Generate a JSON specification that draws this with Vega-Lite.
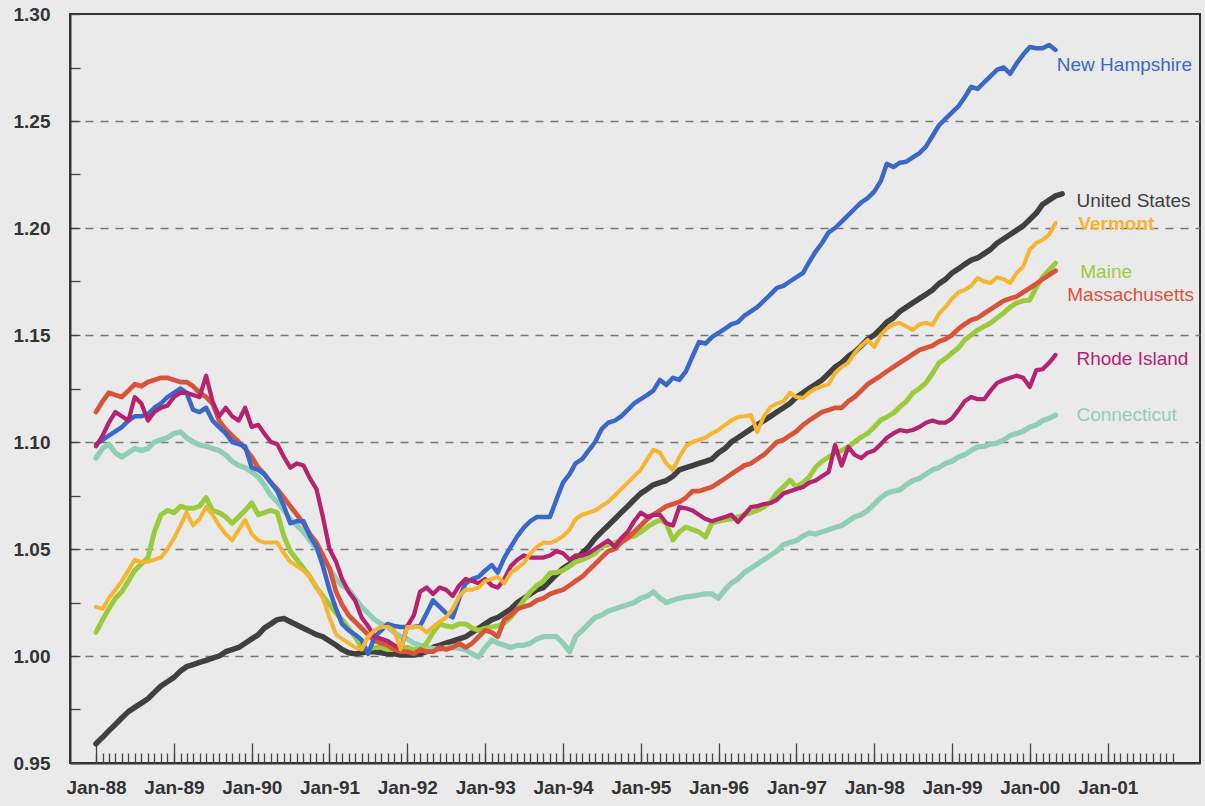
{
"$schema": "https://vega.github.io/schema/vega-lite/v6.json",
"width": 1130, "height": 749,
"autosize": {"type": "none"},
"padding": {"left": 70, "top": 14, "right": 5, "bottom": 43},
"background": "#eaeaea",
"config": {
  "view": {"stroke": "#333333", "strokeWidth": 2, "fill": "#eaeaea"},
  "axis": {"labelFont": "Liberation Sans", "labelFontWeight": "bold", "labelFontSize": 19, "labelColor": "#333333", "tickColor": "#444444", "tickWidth": 1.3, "domainColor": "#333333", "domainWidth": 2, "title": null, "labelFlush": false, "labelOverlap": false, "grid": false}
},
"resolve": {"axis": {"x": "independent", "y": "independent"}},
"layer": [
{
  "data": {"values": [
{"d":"1988-01-01","US":0.959,"NH":1.099,"VT":1.023,"ME":1.011,"MA":1.114,"RI":1.098,"CT":1.0925},
{"d":"1988-02-01","US":0.962,"NH":1.101,"VT":1.022,"ME":1.017,"MA":1.119,"RI":1.103,"CT":1.097},
{"d":"1988-03-01","US":0.965,"NH":1.103,"VT":1.027,"ME":1.022,"MA":1.123,"RI":1.109,"CT":1.099},
{"d":"1988-04-01","US":0.968,"NH":1.105,"VT":1.031,"ME":1.027,"MA":1.122,"RI":1.114,"CT":1.095},
{"d":"1988-05-01","US":0.971,"NH":1.107,"VT":1.035,"ME":1.030,"MA":1.121,"RI":1.112,"CT":1.093},
{"d":"1988-06-01","US":0.974,"NH":1.110,"VT":1.040,"ME":1.035,"MA":1.124,"RI":1.110,"CT":1.095},
{"d":"1988-07-01","US":0.976,"NH":1.112,"VT":1.045,"ME":1.040,"MA":1.127,"RI":1.121,"CT":1.097},
{"d":"1988-08-01","US":0.978,"NH":1.112,"VT":1.044,"ME":1.043,"MA":1.126,"RI":1.118,"CT":1.096},
{"d":"1988-09-01","US":0.980,"NH":1.113,"VT":1.044,"ME":1.046,"MA":1.128,"RI":1.110,"CT":1.097},
{"d":"1988-10-01","US":0.983,"NH":1.116,"VT":1.045,"ME":1.058,"MA":1.129,"RI":1.114,"CT":1.100},
{"d":"1988-11-01","US":0.986,"NH":1.118,"VT":1.046,"ME":1.066,"MA":1.130,"RI":1.116,"CT":1.101},
{"d":"1988-12-01","US":0.988,"NH":1.121,"VT":1.050,"ME":1.068,"MA":1.130,"RI":1.117,"CT":1.102},
{"d":"1989-01-01","US":0.990,"NH":1.123,"VT":1.055,"ME":1.067,"MA":1.129,"RI":1.121,"CT":1.104},
{"d":"1989-02-01","US":0.993,"NH":1.125,"VT":1.061,"ME":1.070,"MA":1.128,"RI":1.123,"CT":1.1047},
{"d":"1989-03-01","US":0.995,"NH":1.123,"VT":1.067,"ME":1.069,"MA":1.128,"RI":1.123,"CT":1.102},
{"d":"1989-04-01","US":0.996,"NH":1.115,"VT":1.061,"ME":1.069,"MA":1.126,"RI":1.122,"CT":1.100},
{"d":"1989-05-01","US":0.997,"NH":1.114,"VT":1.064,"ME":1.070,"MA":1.123,"RI":1.121,"CT":1.0986},
{"d":"1989-06-01","US":0.998,"NH":1.116,"VT":1.0696,"ME":1.074,"MA":1.121,"RI":1.131,"CT":1.098},
{"d":"1989-07-01","US":0.999,"NH":1.110,"VT":1.066,"ME":1.068,"MA":1.118,"RI":1.119,"CT":1.097},
{"d":"1989-08-01","US":1.000,"NH":1.107,"VT":1.061,"ME":1.067,"MA":1.110,"RI":1.112,"CT":1.096},
{"d":"1989-09-01","US":1.002,"NH":1.104,"VT":1.057,"ME":1.065,"MA":1.106,"RI":1.116,"CT":1.094},
{"d":"1989-10-01","US":1.003,"NH":1.100,"VT":1.054,"ME":1.062,"MA":1.103,"RI":1.112,"CT":1.091},
{"d":"1989-11-01","US":1.004,"NH":1.099,"VT":1.059,"ME":1.065,"MA":1.100,"RI":1.110,"CT":1.089},
{"d":"1989-12-01","US":1.006,"NH":1.098,"VT":1.0636,"ME":1.068,"MA":1.097,"RI":1.116,"CT":1.088},
{"d":"1990-01-01","US":1.008,"NH":1.088,"VT":1.057,"ME":1.0715,"MA":1.093,"RI":1.107,"CT":1.086},
{"d":"1990-02-01","US":1.010,"NH":1.087,"VT":1.054,"ME":1.066,"MA":1.088,"RI":1.108,"CT":1.0836},
{"d":"1990-03-01","US":1.013,"NH":1.085,"VT":1.053,"ME":1.067,"MA":1.085,"RI":1.104,"CT":1.080},
{"d":"1990-04-01","US":1.015,"NH":1.081,"VT":1.053,"ME":1.068,"MA":1.081,"RI":1.100,"CT":1.075},
{"d":"1990-05-01","US":1.017,"NH":1.077,"VT":1.053,"ME":1.067,"MA":1.078,"RI":1.099,"CT":1.072},
{"d":"1990-06-01","US":1.0175,"NH":1.070,"VT":1.048,"ME":1.056,"MA":1.074,"RI":1.093,"CT":1.068},
{"d":"1990-07-01","US":1.016,"NH":1.062,"VT":1.044,"ME":1.049,"MA":1.070,"RI":1.088,"CT":1.064},
{"d":"1990-08-01","US":1.0145,"NH":1.063,"VT":1.042,"ME":1.045,"MA":1.066,"RI":1.090,"CT":1.061},
{"d":"1990-09-01","US":1.013,"NH":1.063,"VT":1.040,"ME":1.041,"MA":1.062,"RI":1.089,"CT":1.058},
{"d":"1990-10-01","US":1.0115,"NH":1.056,"VT":1.037,"ME":1.037,"MA":1.057,"RI":1.083,"CT":1.054},
{"d":"1990-11-01","US":1.010,"NH":1.051,"VT":1.032,"ME":1.032,"MA":1.053,"RI":1.078,"CT":1.050},
{"d":"1990-12-01","US":1.009,"NH":1.042,"VT":1.027,"ME":1.028,"MA":1.047,"RI":1.065,"CT":1.046},
{"d":"1991-01-01","US":1.007,"NH":1.031,"VT":1.018,"ME":1.024,"MA":1.041,"RI":1.050,"CT":1.041},
{"d":"1991-02-01","US":1.005,"NH":1.022,"VT":1.010,"ME":1.020,"MA":1.030,"RI":1.044,"CT":1.036},
{"d":"1991-03-01","US":1.003,"NH":1.015,"VT":1.008,"ME":1.017,"MA":1.024,"RI":1.036,"CT":1.033},
{"d":"1991-04-01","US":1.0015,"NH":1.012,"VT":1.006,"ME":1.013,"MA":1.019,"RI":1.030,"CT":1.031},
{"d":"1991-05-01","US":1.001,"NH":1.010,"VT":1.004,"ME":1.009,"MA":1.016,"RI":1.026,"CT":1.027},
{"d":"1991-06-01","US":1.0015,"NH":1.0075,"VT":1.003,"ME":1.004,"MA":1.013,"RI":1.018,"CT":1.023},
{"d":"1991-07-01","US":1.002,"NH":1.001,"VT":1.009,"ME":1.003,"MA":1.010,"RI":1.014,"CT":1.020},
{"d":"1991-08-01","US":1.002,"NH":1.009,"VT":1.012,"ME":1.004,"MA":1.007,"RI":1.009,"CT":1.017},
{"d":"1991-09-01","US":1.0015,"NH":1.012,"VT":1.0136,"ME":1.004,"MA":1.006,"RI":1.008,"CT":1.015},
{"d":"1991-10-01","US":1.001,"NH":1.015,"VT":1.0136,"ME":1.003,"MA":1.005,"RI":1.007,"CT":1.0136},
{"d":"1991-11-01","US":1.001,"NH":1.014,"VT":1.012,"ME":1.003,"MA":1.003,"RI":1.005,"CT":1.011},
{"d":"1991-12-01","US":1.0005,"NH":1.0136,"VT":1.003,"ME":1.004,"MA":1.002,"RI":1.003,"CT":1.009},
{"d":"1992-01-01","US":1.0005,"NH":1.0136,"VT":1.0136,"ME":1.004,"MA":1.002,"RI":1.014,"CT":1.008},
{"d":"1992-02-01","US":1.0005,"NH":1.0136,"VT":1.0136,"ME":1.003,"MA":1.001,"RI":1.019,"CT":1.006},
{"d":"1992-03-01","US":1.001,"NH":1.014,"VT":1.0136,"ME":1.003,"MA":1.003,"RI":1.030,"CT":1.005},
{"d":"1992-04-01","US":1.002,"NH":1.020,"VT":1.011,"ME":1.006,"MA":1.002,"RI":1.032,"CT":1.004},
{"d":"1992-05-01","US":1.004,"NH":1.026,"VT":1.0136,"ME":1.011,"MA":1.002,"RI":1.029,"CT":1.0035},
{"d":"1992-06-01","US":1.005,"NH":1.023,"VT":1.016,"ME":1.015,"MA":1.004,"RI":1.032,"CT":1.003},
{"d":"1992-07-01","US":1.006,"NH":1.020,"VT":1.018,"ME":1.014,"MA":1.003,"RI":1.031,"CT":1.004},
{"d":"1992-08-01","US":1.007,"NH":1.018,"VT":1.022,"ME":1.0136,"MA":1.004,"RI":1.028,"CT":1.004},
{"d":"1992-09-01","US":1.008,"NH":1.027,"VT":1.028,"ME":1.015,"MA":1.006,"RI":1.033,"CT":1.0035},
{"d":"1992-10-01","US":1.009,"NH":1.034,"VT":1.031,"ME":1.015,"MA":1.004,"RI":1.036,"CT":1.003},
{"d":"1992-11-01","US":1.011,"NH":1.036,"VT":1.031,"ME":1.013,"MA":1.006,"RI":1.035,"CT":1.001},
{"d":"1992-12-01","US":1.013,"NH":1.037,"VT":1.032,"ME":1.012,"MA":1.009,"RI":1.034,"CT":0.9995},
{"d":"1993-01-01","US":1.015,"NH":1.040,"VT":1.035,"ME":1.013,"MA":1.012,"RI":1.036,"CT":1.004},
{"d":"1993-02-01","US":1.017,"NH":1.0425,"VT":1.036,"ME":1.0136,"MA":1.011,"RI":1.033,"CT":1.0075},
{"d":"1993-03-01","US":1.018,"NH":1.039,"VT":1.037,"ME":1.014,"MA":1.009,"RI":1.032,"CT":1.006},
{"d":"1993-04-01","US":1.020,"NH":1.046,"VT":1.034,"ME":1.0154,"MA":1.017,"RI":1.036,"CT":1.005},
{"d":"1993-05-01","US":1.022,"NH":1.051,"VT":1.039,"ME":1.018,"MA":1.019,"RI":1.042,"CT":1.004},
{"d":"1993-06-01","US":1.025,"NH":1.056,"VT":1.041,"ME":1.022,"MA":1.022,"RI":1.045,"CT":1.005},
{"d":"1993-07-01","US":1.027,"NH":1.060,"VT":1.0435,"ME":1.026,"MA":1.023,"RI":1.047,"CT":1.005},
{"d":"1993-08-01","US":1.029,"NH":1.063,"VT":1.048,"ME":1.030,"MA":1.024,"RI":1.046,"CT":1.006},
{"d":"1993-09-01","US":1.031,"NH":1.065,"VT":1.051,"ME":1.033,"MA":1.026,"RI":1.046,"CT":1.008},
{"d":"1993-10-01","US":1.032,"NH":1.065,"VT":1.053,"ME":1.035,"MA":1.027,"RI":1.046,"CT":1.009},
{"d":"1993-11-01","US":1.035,"NH":1.065,"VT":1.0528,"ME":1.0388,"MA":1.029,"RI":1.047,"CT":1.009},
{"d":"1993-12-01","US":1.038,"NH":1.073,"VT":1.054,"ME":1.039,"MA":1.030,"RI":1.049,"CT":1.009},
{"d":"1994-01-01","US":1.041,"NH":1.081,"VT":1.056,"ME":1.040,"MA":1.031,"RI":1.048,"CT":1.006},
{"d":"1994-02-01","US":1.043,"NH":1.085,"VT":1.059,"ME":1.042,"MA":1.033,"RI":1.045,"CT":1.002},
{"d":"1994-03-01","US":1.045,"NH":1.090,"VT":1.064,"ME":1.044,"MA":1.035,"RI":1.047,"CT":1.009},
{"d":"1994-04-01","US":1.048,"NH":1.092,"VT":1.066,"ME":1.045,"MA":1.037,"RI":1.047,"CT":1.012},
{"d":"1994-05-01","US":1.051,"NH":1.096,"VT":1.067,"ME":1.0463,"MA":1.040,"RI":1.048,"CT":1.015},
{"d":"1994-06-01","US":1.055,"NH":1.100,"VT":1.068,"ME":1.048,"MA":1.043,"RI":1.050,"CT":1.018},
{"d":"1994-07-01","US":1.058,"NH":1.106,"VT":1.070,"ME":1.051,"MA":1.046,"RI":1.052,"CT":1.019},
{"d":"1994-08-01","US":1.061,"NH":1.109,"VT":1.072,"ME":1.052,"MA":1.049,"RI":1.054,"CT":1.021},
{"d":"1994-09-01","US":1.064,"NH":1.110,"VT":1.075,"ME":1.053,"MA":1.050,"RI":1.051,"CT":1.022},
{"d":"1994-10-01","US":1.067,"NH":1.112,"VT":1.078,"ME":1.054,"MA":1.053,"RI":1.055,"CT":1.023},
{"d":"1994-11-01","US":1.070,"NH":1.115,"VT":1.081,"ME":1.0556,"MA":1.055,"RI":1.058,"CT":1.024},
{"d":"1994-12-01","US":1.073,"NH":1.118,"VT":1.084,"ME":1.056,"MA":1.058,"RI":1.063,"CT":1.025},
{"d":"1995-01-01","US":1.076,"NH":1.120,"VT":1.087,"ME":1.058,"MA":1.061,"RI":1.067,"CT":1.027},
{"d":"1995-02-01","US":1.078,"NH":1.122,"VT":1.092,"ME":1.0603,"MA":1.064,"RI":1.065,"CT":1.028},
{"d":"1995-03-01","US":1.080,"NH":1.124,"VT":1.0963,"ME":1.062,"MA":1.066,"RI":1.066,"CT":1.030},
{"d":"1995-04-01","US":1.081,"NH":1.129,"VT":1.095,"ME":1.0636,"MA":1.068,"RI":1.066,"CT":1.027},
{"d":"1995-05-01","US":1.082,"NH":1.1266,"VT":1.090,"ME":1.062,"MA":1.070,"RI":1.062,"CT":1.025},
{"d":"1995-06-01","US":1.084,"NH":1.130,"VT":1.0869,"ME":1.0542,"MA":1.071,"RI":1.061,"CT":1.026},
{"d":"1995-07-01","US":1.087,"NH":1.129,"VT":1.093,"ME":1.058,"MA":1.072,"RI":1.0696,"CT":1.027},
{"d":"1995-08-01","US":1.088,"NH":1.133,"VT":1.098,"ME":1.0603,"MA":1.074,"RI":1.069,"CT":1.0276},
{"d":"1995-09-01","US":1.089,"NH":1.140,"VT":1.100,"ME":1.059,"MA":1.077,"RI":1.068,"CT":1.028},
{"d":"1995-10-01","US":1.090,"NH":1.1467,"VT":1.101,"ME":1.058,"MA":1.077,"RI":1.066,"CT":1.0285},
{"d":"1995-11-01","US":1.091,"NH":1.146,"VT":1.102,"ME":1.0556,"MA":1.078,"RI":1.064,"CT":1.029},
{"d":"1995-12-01","US":1.092,"NH":1.149,"VT":1.104,"ME":1.0621,"MA":1.079,"RI":1.063,"CT":1.029},
{"d":"1996-01-01","US":1.095,"NH":1.151,"VT":1.1056,"ME":1.063,"MA":1.081,"RI":1.064,"CT":1.027},
{"d":"1996-02-01","US":1.097,"NH":1.153,"VT":1.108,"ME":1.0636,"MA":1.083,"RI":1.065,"CT":1.031},
{"d":"1996-03-01","US":1.100,"NH":1.155,"VT":1.110,"ME":1.064,"MA":1.085,"RI":1.066,"CT":1.034},
{"d":"1996-04-01","US":1.102,"NH":1.156,"VT":1.1117,"ME":1.065,"MA":1.087,"RI":1.0626,"CT":1.036},
{"d":"1996-05-01","US":1.104,"NH":1.159,"VT":1.112,"ME":1.066,"MA":1.089,"RI":1.066,"CT":1.039},
{"d":"1996-06-01","US":1.106,"NH":1.161,"VT":1.1126,"ME":1.067,"MA":1.090,"RI":1.0696,"CT":1.041},
{"d":"1996-07-01","US":1.108,"NH":1.163,"VT":1.1047,"ME":1.068,"MA":1.092,"RI":1.070,"CT":1.043},
{"d":"1996-08-01","US":1.110,"NH":1.166,"VT":1.112,"ME":1.0696,"MA":1.094,"RI":1.071,"CT":1.045},
{"d":"1996-09-01","US":1.112,"NH":1.169,"VT":1.1164,"ME":1.072,"MA":1.097,"RI":1.0715,"CT":1.047},
{"d":"1996-10-01","US":1.114,"NH":1.172,"VT":1.118,"ME":1.0762,"MA":1.100,"RI":1.073,"CT":1.049},
{"d":"1996-11-01","US":1.116,"NH":1.173,"VT":1.119,"ME":1.079,"MA":1.101,"RI":1.076,"CT":1.052},
{"d":"1996-12-01","US":1.118,"NH":1.175,"VT":1.123,"ME":1.0822,"MA":1.103,"RI":1.077,"CT":1.053},
{"d":"1997-01-01","US":1.121,"NH":1.177,"VT":1.121,"ME":1.079,"MA":1.105,"RI":1.078,"CT":1.054},
{"d":"1997-02-01","US":1.123,"NH":1.179,"VT":1.1206,"ME":1.081,"MA":1.108,"RI":1.079,"CT":1.056},
{"d":"1997-03-01","US":1.125,"NH":1.184,"VT":1.123,"ME":1.0836,"MA":1.110,"RI":1.081,"CT":1.0575},
{"d":"1997-04-01","US":1.127,"NH":1.189,"VT":1.125,"ME":1.0883,"MA":1.112,"RI":1.082,"CT":1.057},
{"d":"1997-05-01","US":1.129,"NH":1.193,"VT":1.126,"ME":1.091,"MA":1.114,"RI":1.084,"CT":1.058},
{"d":"1997-06-01","US":1.132,"NH":1.198,"VT":1.127,"ME":1.093,"MA":1.115,"RI":1.086,"CT":1.059},
{"d":"1997-07-01","US":1.135,"NH":1.200,"VT":1.1322,"ME":1.0949,"MA":1.116,"RI":1.0986,"CT":1.060},
{"d":"1997-08-01","US":1.137,"NH":1.203,"VT":1.135,"ME":1.096,"MA":1.116,"RI":1.089,"CT":1.061},
{"d":"1997-09-01","US":1.140,"NH":1.206,"VT":1.137,"ME":1.0977,"MA":1.119,"RI":1.0977,"CT":1.063},
{"d":"1997-10-01","US":1.142,"NH":1.209,"VT":1.1416,"ME":1.100,"MA":1.121,"RI":1.094,"CT":1.065},
{"d":"1997-11-01","US":1.145,"NH":1.212,"VT":1.145,"ME":1.1023,"MA":1.124,"RI":1.0925,"CT":1.066},
{"d":"1997-12-01","US":1.148,"NH":1.214,"VT":1.1477,"ME":1.104,"MA":1.127,"RI":1.095,"CT":1.068},
{"d":"1998-01-01","US":1.150,"NH":1.217,"VT":1.1444,"ME":1.107,"MA":1.129,"RI":1.096,"CT":1.071},
{"d":"1998-02-01","US":1.153,"NH":1.222,"VT":1.150,"ME":1.1103,"MA":1.131,"RI":1.099,"CT":1.074},
{"d":"1998-03-01","US":1.156,"NH":1.230,"VT":1.153,"ME":1.1117,"MA":1.133,"RI":1.102,"CT":1.076},
{"d":"1998-04-01","US":1.158,"NH":1.2285,"VT":1.155,"ME":1.1135,"MA":1.135,"RI":1.104,"CT":1.077},
{"d":"1998-05-01","US":1.161,"NH":1.2305,"VT":1.1556,"ME":1.1164,"MA":1.137,"RI":1.1056,"CT":1.0776},
{"d":"1998-06-01","US":1.163,"NH":1.231,"VT":1.154,"ME":1.119,"MA":1.139,"RI":1.105,"CT":1.080},
{"d":"1998-07-01","US":1.165,"NH":1.233,"VT":1.1523,"ME":1.1229,"MA":1.141,"RI":1.1056,"CT":1.082},
{"d":"1998-08-01","US":1.167,"NH":1.235,"VT":1.155,"ME":1.125,"MA":1.143,"RI":1.107,"CT":1.083},
{"d":"1998-09-01","US":1.169,"NH":1.238,"VT":1.1556,"ME":1.1276,"MA":1.144,"RI":1.109,"CT":1.085},
{"d":"1998-10-01","US":1.171,"NH":1.243,"VT":1.1547,"ME":1.132,"MA":1.145,"RI":1.110,"CT":1.087},
{"d":"1998-11-01","US":1.174,"NH":1.248,"VT":1.160,"ME":1.137,"MA":1.147,"RI":1.109,"CT":1.088},
{"d":"1998-12-01","US":1.176,"NH":1.251,"VT":1.163,"ME":1.139,"MA":1.148,"RI":1.109,"CT":1.090},
{"d":"1999-01-01","US":1.179,"NH":1.254,"VT":1.167,"ME":1.1416,"MA":1.150,"RI":1.111,"CT":1.091},
{"d":"1999-02-01","US":1.181,"NH":1.257,"VT":1.170,"ME":1.144,"MA":1.153,"RI":1.115,"CT":1.093},
{"d":"1999-03-01","US":1.183,"NH":1.261,"VT":1.171,"ME":1.1477,"MA":1.155,"RI":1.119,"CT":1.094},
{"d":"1999-04-01","US":1.185,"NH":1.266,"VT":1.173,"ME":1.150,"MA":1.157,"RI":1.121,"CT":1.096},
{"d":"1999-05-01","US":1.186,"NH":1.265,"VT":1.1766,"ME":1.1523,"MA":1.158,"RI":1.120,"CT":1.0977},
{"d":"1999-06-01","US":1.188,"NH":1.268,"VT":1.175,"ME":1.154,"MA":1.160,"RI":1.120,"CT":1.098},
{"d":"1999-07-01","US":1.190,"NH":1.271,"VT":1.1743,"ME":1.1556,"MA":1.162,"RI":1.124,"CT":1.099},
{"d":"1999-08-01","US":1.193,"NH":1.274,"VT":1.177,"ME":1.158,"MA":1.164,"RI":1.1276,"CT":1.0995},
{"d":"1999-09-01","US":1.195,"NH":1.275,"VT":1.176,"ME":1.1603,"MA":1.166,"RI":1.129,"CT":1.101},
{"d":"1999-10-01","US":1.197,"NH":1.272,"VT":1.1743,"ME":1.163,"MA":1.167,"RI":1.130,"CT":1.103},
{"d":"1999-11-01","US":1.199,"NH":1.277,"VT":1.179,"ME":1.165,"MA":1.168,"RI":1.131,"CT":1.104},
{"d":"1999-12-01","US":1.201,"NH":1.281,"VT":1.182,"ME":1.166,"MA":1.170,"RI":1.130,"CT":1.105},
{"d":"2000-01-01","US":1.204,"NH":1.2846,"VT":1.190,"ME":1.1664,"MA":1.172,"RI":1.1257,"CT":1.107},
{"d":"2000-02-01","US":1.207,"NH":1.284,"VT":1.193,"ME":1.1724,"MA":1.174,"RI":1.1336,"CT":1.108},
{"d":"2000-03-01","US":1.211,"NH":1.284,"VT":1.1944,"ME":1.177,"MA":1.176,"RI":1.134,"CT":1.110},
{"d":"2000-04-01","US":1.213,"NH":1.2855,"VT":1.197,"ME":1.1804,"MA":1.178,"RI":1.137,"CT":1.111},
{"d":"2000-05-01","US":1.215,"NH":1.2832,"VT":1.2023,"ME":1.1836,"MA":1.180,"RI":1.1407,"CT":1.1126},
{"d":"2000-06-01","US":1.216}
  ]},
  "transform": [
    {"fold": ["US","CT","ME","MA","NH","RI","VT"], "as": ["key","value"]},
    {"filter": "isValid(datum.value)"}
  ],
  "mark": {"type": "line", "strokeJoin": "round", "strokeCap": "round"},
  "encoding": {
    "x": {"field": "d", "type": "temporal",
      "scale": {"domain": [{"year":1987,"month":9,"date":1},{"year":2002,"month":3,"date":10}]},
      "axis": {"orient": "bottom", "format": "%b-%y", "tickSize": -20, "labelPadding": 35,
        "values": [{"year":1988,"month":1},{"year":1989,"month":1},{"year":1990,"month":1},{"year":1991,"month":1},{"year":1992,"month":1},{"year":1993,"month":1},{"year":1994,"month":1},{"year":1995,"month":1},{"year":1996,"month":1},{"year":1997,"month":1},{"year":1998,"month":1},{"year":1999,"month":1},{"year":2000,"month":1},{"year":2001,"month":1}]}},
    "y": {"field": "value", "type": "quantitative",
      "scale": {"domain": [0.95, 1.3], "nice": false, "zero": false},
      "axis": {"orient": "left", "tickSize": -10, "labelPadding": 30,
        "values": [0.95,0.975,1.0,1.025,1.05,1.075,1.1,1.125,1.15,1.175,1.2,1.225,1.25,1.275,1.3],
        "labelExpr": "abs(datum.value*20 - round(datum.value*20)) < 0.001 ? format(datum.value, '.2f') : ''"}},
    "color": {"field": "key", "type": "nominal", "legend": null,
      "scale": {"domain": ["US","CT","ME","MA","NH","RI","VT"], "range": ["#404040","#90cfb5","#9bcb3c","#d9533b","#3a68c8","#b5236f","#f5b530"]}},
    "size": {"field": "key", "type": "ordinal", "legend": null,
      "scale": {"domain": ["US","CT","ME","MA","NH","RI","VT"], "range": [5.5,4,4.5,3.8,4,4.5,2.8]}}
  }
},
{
  "data": {"name": "labels", "values": [
    {"key":"NH","name":"New Hampshire","d":"2000-05-07","value":1.2762,"bold":0},
    {"key":"US","name":"United States","d":"2000-08-07","value":1.2126,"bold":0},
    {"key":"VT","name":"Vermont","d":"2000-08-16","value":1.2019,"bold":1},
    {"key":"ME","name":"Maine","d":"2000-08-25","value":1.1794,"bold":0},
    {"key":"MA","name":"Massachusetts","d":"2000-06-25","value":1.1687,"bold":0},
    {"key":"RI","name":"Rhode Island","d":"2000-08-07","value":1.1388,"bold":0},
    {"key":"CT","name":"Connecticut","d":"2000-08-07","value":1.1126,"bold":0}
  ]},
  "transform": [{"filter": "datum.bold == 0"}],
  "mark": {"type": "text", "align": "left", "baseline": "middle", "font": "Liberation Sans", "fontSize": 19},
  "encoding": {
    "x": {"field": "d", "type": "temporal",
      "scale": {"domain": [{"year":1987,"month":9,"date":1},{"year":2002,"month":3,"date":10}]},
      "axis": {"orient": "bottom", "labels": false, "domain": false, "tickSize": -10,
        "values": [
{"year":1988,"month":1},{"year":1988,"month":2},{"year":1988,"month":3},{"year":1988,"month":4},{"year":1988,"month":5},{"year":1988,"month":6},{"year":1988,"month":7},{"year":1988,"month":8},{"year":1988,"month":9},{"year":1988,"month":10},{"year":1988,"month":11},{"year":1988,"month":12},
{"year":1989,"month":1},{"year":1989,"month":2},{"year":1989,"month":3},{"year":1989,"month":4},{"year":1989,"month":5},{"year":1989,"month":6},{"year":1989,"month":7},{"year":1989,"month":8},{"year":1989,"month":9},{"year":1989,"month":10},{"year":1989,"month":11},{"year":1989,"month":12},
{"year":1990,"month":1},{"year":1990,"month":2},{"year":1990,"month":3},{"year":1990,"month":4},{"year":1990,"month":5},{"year":1990,"month":6},{"year":1990,"month":7},{"year":1990,"month":8},{"year":1990,"month":9},{"year":1990,"month":10},{"year":1990,"month":11},{"year":1990,"month":12},
{"year":1991,"month":1},{"year":1991,"month":2},{"year":1991,"month":3},{"year":1991,"month":4},{"year":1991,"month":5},{"year":1991,"month":6},{"year":1991,"month":7},{"year":1991,"month":8},{"year":1991,"month":9},{"year":1991,"month":10},{"year":1991,"month":11},{"year":1991,"month":12},
{"year":1992,"month":1},{"year":1992,"month":2},{"year":1992,"month":3},{"year":1992,"month":4},{"year":1992,"month":5},{"year":1992,"month":6},{"year":1992,"month":7},{"year":1992,"month":8},{"year":1992,"month":9},{"year":1992,"month":10},{"year":1992,"month":11},{"year":1992,"month":12},
{"year":1993,"month":1},{"year":1993,"month":2},{"year":1993,"month":3},{"year":1993,"month":4},{"year":1993,"month":5},{"year":1993,"month":6},{"year":1993,"month":7},{"year":1993,"month":8},{"year":1993,"month":9},{"year":1993,"month":10},{"year":1993,"month":11},{"year":1993,"month":12},
{"year":1994,"month":1},{"year":1994,"month":2},{"year":1994,"month":3},{"year":1994,"month":4},{"year":1994,"month":5},{"year":1994,"month":6},{"year":1994,"month":7},{"year":1994,"month":8},{"year":1994,"month":9},{"year":1994,"month":10},{"year":1994,"month":11},{"year":1994,"month":12},
{"year":1995,"month":1},{"year":1995,"month":2},{"year":1995,"month":3},{"year":1995,"month":4},{"year":1995,"month":5},{"year":1995,"month":6},{"year":1995,"month":7},{"year":1995,"month":8},{"year":1995,"month":9},{"year":1995,"month":10},{"year":1995,"month":11},{"year":1995,"month":12},
{"year":1996,"month":1},{"year":1996,"month":2},{"year":1996,"month":3},{"year":1996,"month":4},{"year":1996,"month":5},{"year":1996,"month":6},{"year":1996,"month":7},{"year":1996,"month":8},{"year":1996,"month":9},{"year":1996,"month":10},{"year":1996,"month":11},{"year":1996,"month":12},
{"year":1997,"month":1},{"year":1997,"month":2},{"year":1997,"month":3},{"year":1997,"month":4},{"year":1997,"month":5},{"year":1997,"month":6},{"year":1997,"month":7},{"year":1997,"month":8},{"year":1997,"month":9},{"year":1997,"month":10},{"year":1997,"month":11},{"year":1997,"month":12},
{"year":1998,"month":1},{"year":1998,"month":2},{"year":1998,"month":3},{"year":1998,"month":4},{"year":1998,"month":5},{"year":1998,"month":6},{"year":1998,"month":7},{"year":1998,"month":8},{"year":1998,"month":9},{"year":1998,"month":10},{"year":1998,"month":11},{"year":1998,"month":12},
{"year":1999,"month":1},{"year":1999,"month":2},{"year":1999,"month":3},{"year":1999,"month":4},{"year":1999,"month":5},{"year":1999,"month":6},{"year":1999,"month":7},{"year":1999,"month":8},{"year":1999,"month":9},{"year":1999,"month":10},{"year":1999,"month":11},{"year":1999,"month":12},
{"year":2000,"month":1},{"year":2000,"month":2},{"year":2000,"month":3},{"year":2000,"month":4},{"year":2000,"month":5},{"year":2000,"month":6},{"year":2000,"month":7},{"year":2000,"month":8},{"year":2000,"month":9},{"year":2000,"month":10},{"year":2000,"month":11},{"year":2000,"month":12},
{"year":2001,"month":1},{"year":2001,"month":2},{"year":2001,"month":3},{"year":2001,"month":4},{"year":2001,"month":5},{"year":2001,"month":6},{"year":2001,"month":7},{"year":2001,"month":8},{"year":2001,"month":9},{"year":2001,"month":10},{"year":2001,"month":11}
        ]}},
    "y": {"field": "value", "type": "quantitative",
      "scale": {"domain": [0.95, 1.3], "nice": false, "zero": false},
      "axis": {"orient": "left", "values": [1.0,1.05,1.1,1.15,1.2,1.25], "grid": true, "gridDash": [8,7], "gridColor": "#777777", "gridWidth": 1.4, "ticks": false, "labels": false, "domain": false}},
    "text": {"field": "name"},
    "color": {"field": "key", "type": "nominal", "legend": null,
      "scale": {"domain": ["US","CT","ME","MA","NH","RI","VT"], "range": ["#404040","#90cfb5","#9bcb3c","#d9533b","#3a68c8","#b5236f","#f5b530"]}}
  }
},
{
  "data": {"name": "labels"},
  "transform": [{"filter": "datum.bold == 1"}],
  "mark": {"type": "text", "align": "left", "baseline": "middle", "font": "Liberation Sans", "fontSize": 19, "fontWeight": "bold"},
  "encoding": {
    "x": {"field": "d", "type": "temporal", "axis": null,
      "scale": {"domain": [{"year":1987,"month":9,"date":1},{"year":2002,"month":3,"date":10}]}},
    "y": {"field": "value", "type": "quantitative", "axis": null,
      "scale": {"domain": [0.95, 1.3], "nice": false, "zero": false}},
    "text": {"field": "name"},
    "color": {"field": "key", "type": "nominal", "legend": null,
      "scale": {"domain": ["US","CT","ME","MA","NH","RI","VT"], "range": ["#404040","#90cfb5","#9bcb3c","#d9533b","#3a68c8","#b5236f","#f5b530"]}}
  }
}
]
}
